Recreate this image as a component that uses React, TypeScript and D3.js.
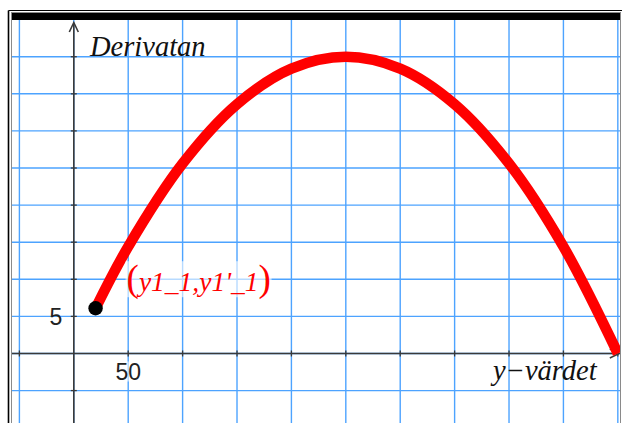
import React from 'react';
import * as d3 from 'd3';

const W = 622;
const H = 423;

// Sampled curve: derivative as a function of the y-value
const yValues = [20, 50, 100, 150, 200, 250, 300, 350, 400, 450, 500];
const derivatives = [6.1, 14.4, 25.6, 33.6, 38.4, 40, 38.4, 33.6, 25.6, 14.4, 0];

// Starting point of the sequence
const startX = 20;
const startY = 6.1;

// Grid lines and labelled ticks
const xGrid = [-50, 0, 50, 100, 150, 200, 250, 300, 350, 400, 450, 500];
const yGrid = [-5, 0, 5, 10, 15, 20, 25, 30, 35, 40];
const xTickLabels = [50];
const yTickLabels = [5];

const xTitle = 'y\u2212värdet';
const yTitle = 'Derivatan';
const pointText = "y1_1,y1'_1";

const PLOT = { left: 12, right: 620, top: 20, bottom: 423 };

const serif = '"Liberation Serif", "Times New Roman", serif';
const sans = '"Liberation Sans", Arial, sans-serif';

export default function App() {
  const x = d3.scaleLinear().domain([-56.8, 502]).range([PLOT.left, PLOT.right]);
  const y = d3.scaleLinear().domain([-9.37, 44.95]).range([PLOT.bottom, PLOT.top]);

  const pts: [number, number][] = yValues.map((v, i) => [v, derivatives[i]]);
  const line = d3
    .line<[number, number]>()
    .x((d) => x(d[0]))
    .y((d) => y(d[1]))
    .curve(d3.curveCatmullRom.alpha(0.5));

  const x0 = x(0);
  const y0 = y(0);
  const axisColor = '#3a3a3a';
  const gridColor = '#4da3ff';
  const red = '#ff0000';

  return (
    <svg
      width={W}
      height={H}
      style={{ position: 'absolute', left: 0, top: 0, background: '#fff' }}
    >
      <defs>
        <clipPath id="plot-clip">
          <rect x={PLOT.left} y={PLOT.top} width={PLOT.right - PLOT.left} height={PLOT.bottom - PLOT.top} />
        </clipPath>
      </defs>

      {/* window frame */}
      <line x1={8.5} y1={10.5} x2={W} y2={10.5} stroke="#000" strokeWidth={1.2} />
      <line x1={8.5} y1={10.5} x2={8.5} y2={H} stroke="#000" strokeWidth={1.6} />
      <rect x={11.5} y={12.5} width={609} height={H} fill="none" stroke="#8a8a8a" strokeWidth={1} />
      <rect x={12} y={13} width={608} height={7} fill="#000" />

      <g clipPath="url(#plot-clip)">
        {/* grid */}
        {xGrid.map((v) => (
          <line key={'gx' + v} x1={x(v)} x2={x(v)} y1={PLOT.top} y2={PLOT.bottom} stroke={gridColor} strokeWidth={1.4} />
        ))}
        {yGrid.map((v) => (
          <line key={'gy' + v} x1={PLOT.left} x2={PLOT.right} y1={y(v)} y2={y(v)} stroke={gridColor} strokeWidth={1.4} />
        ))}

        {/* axes */}
        <line x1={PLOT.left} x2={x(500) + 1} y1={y0} y2={y0} stroke={axisColor} strokeWidth={1.6} />
        <line x1={x0} x2={x0} y1={PLOT.bottom} y2={PLOT.top + 3} stroke={axisColor} strokeWidth={1.6} />
        <path
          d={`M${x0 - 4.5},${PLOT.top + 12} L${x0},${PLOT.top + 2.5} L${x0 + 4.5},${PLOT.top + 12}`}
          fill="none"
          stroke={axisColor}
          strokeWidth={1.6}
        />
        <path
          d={`M${x(500) - 8},${y0 - 4.5} L${x(500) + 1.5},${y0} L${x(500) - 8},${y0 + 4.5}`}
          fill="none"
          stroke={axisColor}
          strokeWidth={1.6}
        />

        {/* tick marks */}
        {xGrid.filter((v) => v !== 0).map((v) => (
          <line key={'tx' + v} x1={x(v)} x2={x(v)} y1={y0 - 3} y2={y0 + 3} stroke={axisColor} strokeWidth={1.3} />
        ))}
        {yGrid.filter((v) => v !== 0).map((v) => (
          <line key={'ty' + v} x1={x0 - 3} x2={x0 + 3} y1={y(v)} y2={y(v)} stroke={axisColor} strokeWidth={1.3} />
        ))}

        {/* tick labels */}
        {xTickLabels.map((v) => (
          <g key={'lx' + v}>
            <rect x={x(v) - 14} y={y0 + 8} width={28} height={20} fill="#fff" opacity={0.55} />
            <text x={x(v)} y={y0 + 26.5} textAnchor="middle" fontFamily={sans} fontSize={23} fill="#222">
              {v}
            </text>
          </g>
        ))}
        {yTickLabels.map((v) => (
          <text key={'ly' + v} x={x0 - 11.5} y={y(v) + 8.5} textAnchor="end" fontFamily={sans} fontSize={23} fill="#222">
            {v}
          </text>
        ))}

        {/* axis titles */}
        <text x={90} y={56} fontFamily={serif} fontStyle="italic" fontSize={28.5} fill="#111">
          {yTitle}
        </text>
        <text x={493} y={380} fontFamily={serif} fontStyle="italic" fontSize={28.5} fill="#111">
          {xTitle}
        </text>

        {/* curve */}
        <path d={line(pts) ?? ''} fill="none" stroke={red} strokeWidth={10.5} strokeLinecap="butt" strokeLinejoin="round" />

        {/* starting point and its label */}
        <circle cx={x(startX)} cy={y(startY)} r={7.2} fill="#000" />
        <rect x={x(startX) + 30} y={y(startY) - 47} width={146} height={36} fill="#fff" opacity={0.6} />
        <text x={x(startX) + 31} y={y(startY) - 17} fontFamily={serif} fontStyle="italic" fill={red}>
          <tspan fontSize={37} fontStyle="normal">(</tspan>
          <tspan fontSize={27.5}>{pointText}</tspan>
          <tspan fontSize={37} fontStyle="normal">)</tspan>
        </text>
      </g>
    </svg>
  );
}
